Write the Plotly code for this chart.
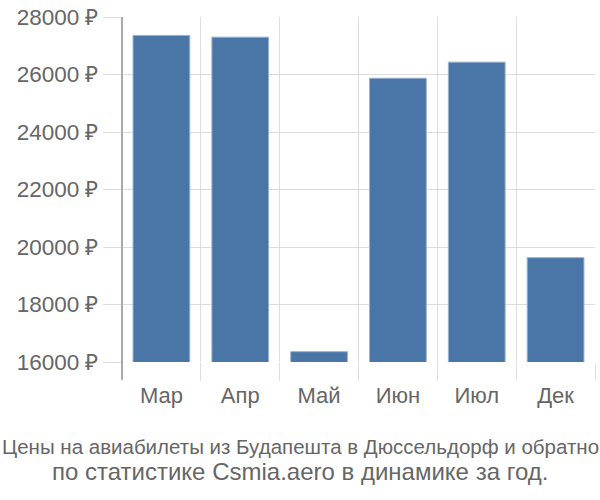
import plotly.graph_objects as go

months = ["Мар", "Апр", "Май", "Июн", "Июл", "Дек"]
prices = [27360, 27300, 16360, 25870, 26430, 19630]
y_ticks = [16000, 18000, 20000, 22000, 24000, 26000, 28000]
y_tick_labels = [f"{v} ₽" for v in y_ticks]

L, R, T, B = 122, 5, 13, 138
plot_w = 600 - L - R
plot_h = 500 - T - B

fig = go.Figure()
fig.add_trace(go.Bar(
    x=months, y=prices,
    marker=dict(color="#4a76a7", line=dict(color="#9ab3cf", width=1)),
    width=0.72,
))

fig.update_layout(
    width=600, height=500,
    margin=dict(l=L, r=R, t=T, b=B),
    paper_bgcolor="white", plot_bgcolor="white",
    font=dict(family="Liberation Sans, Arial, sans-serif", color="#666666"),
    showlegend=False,
    xaxis=dict(
        type="category", tickson="boundaries",
        showgrid=True, gridcolor="#dddddd", gridwidth=1,
        ticks="outside", ticklen=18, tickcolor="#dddddd", tickwidth=1,
        ticklabelstandoff=18,
        tickfont=dict(size=22, color="#666666"),
        showline=False, zeroline=False,
    ),
    yaxis=dict(
        range=[16000, 28000],
        tickvals=y_ticks, ticktext=y_tick_labels,
        tickfont=dict(size=22.5, color="#666666"),
        showgrid=True, gridcolor="#dddddd", gridwidth=1,
        showline=False,
        ticks="outside", ticklen=18, tickcolor="#dddddd",
        zeroline=False,
    ),
    shapes=[
        dict(type="line", xref="paper", yref="paper",
             x0=0, x1=0, y0=1, y1=-18 / plot_h,
             line=dict(color="#aaaaaa", width=2)),
    ],
    annotations=[
        dict(text="Цены на авиабилеты из Будапешта в Дюссельдорф и обратно",
             xref="paper", yref="paper", x=(300 - L) / plot_w, xanchor="center",
             y=(T + plot_h - 447) / plot_h, yanchor="middle", showarrow=False,
             font=dict(size=20.5, color="#666666")),
        dict(text="по статистике Csmia.aero в динамике за год.",
             xref="paper", yref="paper", x=(300 - L) / plot_w, xanchor="center",
             y=(T + plot_h - 473) / plot_h, yanchor="middle", showarrow=False,
             font=dict(size=24, color="#666666")),
    ],
)

fig.write_html("out.html")
